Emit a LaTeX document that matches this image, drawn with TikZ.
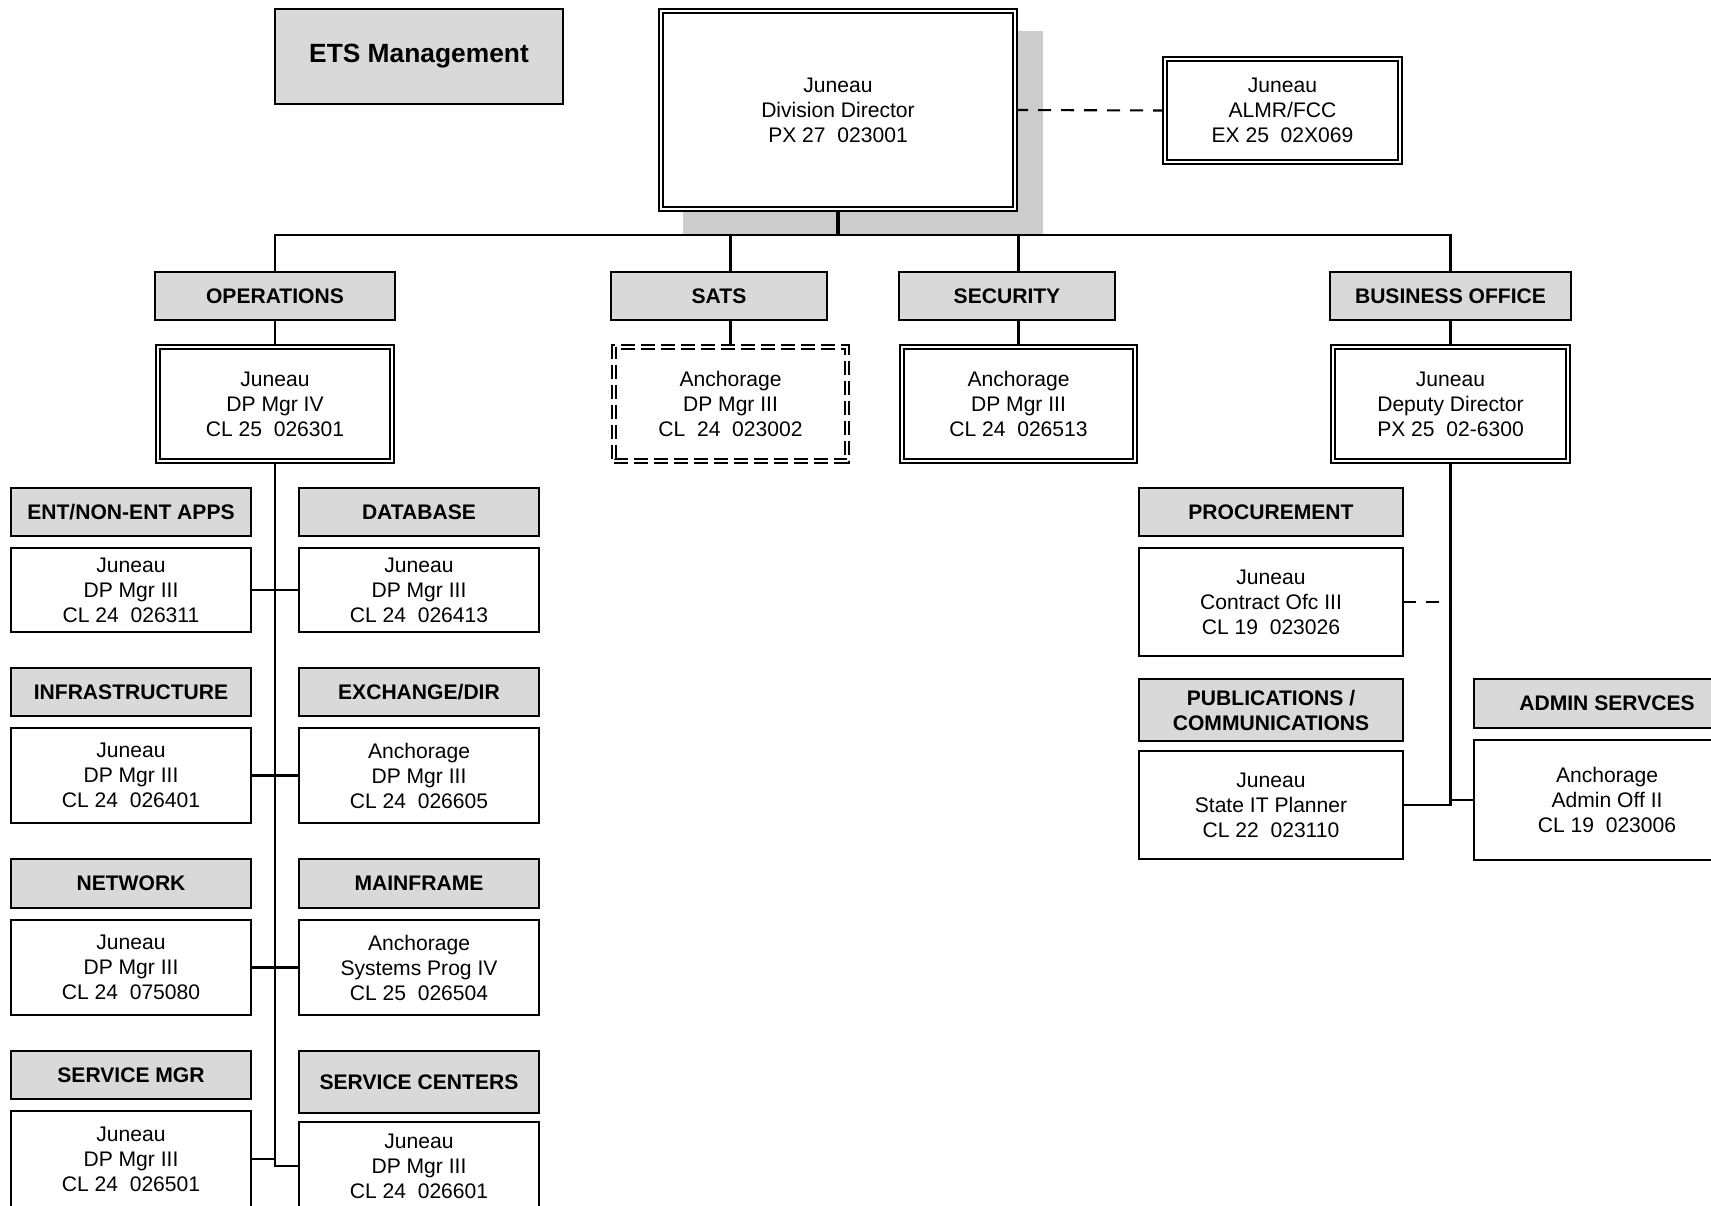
\documentclass[tikz,border=0pt]{standalone}
\usepackage{fontspec}
\setmainfont{Liberation Sans}
\usetikzlibrary{backgrounds}
\definecolor{hdrgray}{HTML}{D9D9D9}
\definecolor{shadowgray}{HTML}{CCCCCC}
\begin{document}
\begin{tikzpicture}[x=0.02cm,y=-0.02cm,
  every node/.style={font=\fontsize{12}{14.2}\selectfont, align=center, inner sep=0pt, outer sep=0pt},
  hdr/.style={draw, line width=1.2pt, fill=hdrgray, font=\fontsize{12}{14.2}\selectfont\bfseries},
  posbox/.style={draw, line width=1.2pt, fill=white},
  dblbox/.style={draw, line width=1pt, double=white, double distance=1.4pt, fill=white},
  satsbox/.style={draw, line width=1pt, double=white, double distance=1.4pt, fill=white, dash pattern=on 0.28cm off 0.12cm},
  conn/.style={line width=1.2pt},
  dsh/.style={line width=1.2pt, dash pattern=on 0.26cm off 0.2cm},
]
\useasboundingbox (0,0) rectangle (1711,1205);
\clip (0,0) rectangle (1711,1205);

% top
\node[hdr, font=\fontsize{15}{18}\selectfont\bfseries, minimum width=5.76cm, minimum height=1.9cm] (ets) at (419,56.5) {ETS Management};
\node[dblbox, minimum width=7.09cm, minimum height=3.97cm] (dir) at (838,110) {Juneau\\Division Director\\PX 27\ \ 023001};
\node[dblbox, minimum width=4.71cm, minimum height=2.07cm] (almr) at (1282.5,110.5) {Juneau\\ALMR/FCC\\EX 25\ \ 02X069};
\coordinate (bus) at (838,235);

% second level headers
\node[hdr, minimum width=4.8cm, minimum height=0.96cm] (opsH) at (275,296) {OPERATIONS};
\node[hdr, minimum width=4.32cm, minimum height=0.96cm] (satsH) at (719,296) {SATS};
\node[hdr, minimum width=4.32cm, minimum height=0.96cm] (secH) at (1007,296) {SECURITY};
\node[hdr, minimum width=4.82cm, minimum height=0.96cm] (busH) at (1450.5,296) {BUSINESS OFFICE};

% second level boxes
\node[dblbox, minimum width=4.69cm, minimum height=2.29cm] (opsB) at (275,404) {Juneau\\DP Mgr IV\\CL 25\ \ 026301};
\node[satsbox, minimum width=4.67cm, minimum height=2.29cm] (satsB) at (730.5,404) {Anchorage\\DP Mgr III\\CL\ \ 24\ \ 023002};
\node[dblbox, minimum width=4.67cm, minimum height=2.29cm] (secB) at (1018.5,404) {Anchorage\\DP Mgr III\\CL 24\ \ 026513};
\node[dblbox, minimum width=4.71cm, minimum height=2.29cm] (busB) at (1450.5,404) {Juneau\\Deputy Director\\PX 25\ \ 02-6300};

% operations columns
\node[hdr, minimum width=4.8cm, minimum height=0.96cm] (entH) at (131,512) {ENT/NON-ENT APPS};
\node[posbox, minimum width=4.8cm, minimum height=1.68cm] (entB) at (131,590) {Juneau\\DP Mgr III\\CL 24\ \ 026311};
\node[hdr, minimum width=4.8cm, minimum height=0.96cm] (dbH) at (419,512) {DATABASE};
\node[posbox, minimum width=4.8cm, minimum height=1.68cm] (dbB) at (419,590) {Juneau\\DP Mgr III\\CL 24\ \ 026413};

\node[hdr, minimum width=4.8cm, minimum height=0.96cm] (infH) at (131,692) {INFRASTRUCTURE};
\node[posbox, minimum width=4.8cm, minimum height=1.9cm] (infB) at (131,775.5) {Juneau\\DP Mgr III\\CL 24\ \ 026401};
\node[hdr, minimum width=4.8cm, minimum height=0.96cm] (exH) at (419,692) {EXCHANGE/DIR};
\node[posbox, minimum width=4.8cm, minimum height=1.9cm] (exB) at (419,775.5) {Anchorage\\DP Mgr III\\CL 24\ \ 026605};

\node[hdr, minimum width=4.8cm, minimum height=0.98cm] (netH) at (131,883.5) {NETWORK};
\node[posbox, minimum width=4.8cm, minimum height=1.9cm] (netB) at (131,967.5) {Juneau\\DP Mgr III\\CL 24\ \ 075080};
\node[hdr, minimum width=4.8cm, minimum height=0.98cm] (mfH) at (419,883.5) {MAINFRAME};
\node[posbox, minimum width=4.8cm, minimum height=1.9cm] (mfB) at (419,967.5) {Anchorage\\Systems Prog IV\\CL 25\ \ 026504};

\node[hdr, minimum width=4.8cm, minimum height=0.96cm] (smH) at (131,1075) {SERVICE MGR};
\node[posbox, minimum width=4.8cm, minimum height=1.92cm] (smB) at (131,1159) {Juneau\\DP Mgr III\\CL 24\ \ 026501};
\node[hdr, minimum width=4.8cm, minimum height=1.24cm] (scH) at (419,1082) {SERVICE CENTERS};
\node[posbox, minimum width=4.8cm, minimum height=1.76cm] (scB) at (419,1166) {Juneau\\DP Mgr III\\CL 24\ \ 026601};

% business office column
\node[hdr, minimum width=5.28cm, minimum height=0.96cm] (procH) at (1271,512) {PROCUREMENT};
\node[posbox, minimum width=5.28cm, minimum height=2.16cm] (procB) at (1271,602) {Juneau\\Contract Ofc III\\CL 19\ \ 023026};
\node[hdr, minimum width=5.28cm, minimum height=1.24cm] (pubH) at (1271,710) {PUBLICATIONS /\\COMMUNICATIONS};
\node[posbox, minimum width=5.28cm, minimum height=2.16cm] (pubB) at (1271,805) {Juneau\\State IT Planner\\CL 22\ \ 023110};
\node[hdr, minimum width=5.32cm, minimum height=0.98cm] (admH) at (1607,703.5) {ADMIN SERVCES};
\node[posbox, minimum width=5.32cm, minimum height=2.4cm] (admB) at (1607,800) {Anchorage\\Admin Off II\\CL 19\ \ 023006};

\begin{scope}[on background layer]
  \fill[white] (0,0) rectangle (1711,1205);
  \fill[shadowgray] (683,31) rectangle (1043,235);
  \draw[conn] (opsH.north) |- (busH.north |- bus) -- (busH.north);
  \draw[conn] (satsB.north) -- (satsB.north |- bus);
  \draw[conn] (secB.north) -- (secB.north |- bus);
  \draw[line width=2.2pt] (dir.south) -- (dir.south |- bus);
  \draw[dsh] (dir.east) -- (almr.west);
  \draw[conn] (opsH.south) -- (opsB.north);
  \draw[conn] (busH.south) -- (busB.north);
  \draw[conn] (opsB.south) |- (scB.west);
  \draw[conn] (entB.east) -- (dbB.west);
  \draw[conn] (infB.east) -- (exB.west);
  \draw[conn] (netB.east) -- (mfB.west);
  \draw[conn] (smB.east) -- (smB.east -| opsB.south);
  \draw[conn] (busB.south) |- (pubB.east);
  \draw[conn] (admB.west) -- (admB.west -| busB.south);
  \draw[dsh] (procB.east) -- (procB.east -| busB.south);
\end{scope}
\end{tikzpicture}
\end{document}
